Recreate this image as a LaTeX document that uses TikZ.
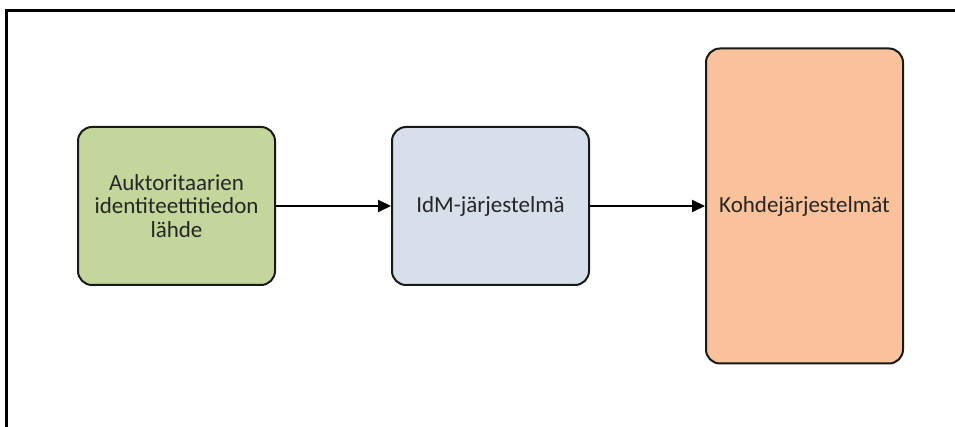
\documentclass[tikz,border=0pt]{standalone}
\usepackage{fontspec}
\setmainfont{Carlito}
\usetikzlibrary{positioning,arrows.meta}

\definecolor{lahdegreen}{HTML}{C3D69B}
\definecolor{idmblue}{HTML}{D7DFEA}
\definecolor{kohdeorange}{HTML}{F9C29A}

\begin{document}
\begin{tikzpicture}[x=0.5pt, y=-0.5pt, node distance=57.5pt,
        sysbox/.style={draw=black!90, line width=1pt, rounded corners=7pt,
          minimum width=98.5pt, minimum height=79pt, align=center,
          font=\fontsize{11.5}{11.8}\selectfont, text=black!85},
        flow/.style={-{Triangle[length=6.5pt, width=6pt]}, line width=1pt}]
        \useasboundingbox (0,0) rectangle (955,427);
        % frame, only its top and left edges fall inside the page
        \draw[line width=1.5pt] (6,427) -- (6,11) -- (955,11);

        \node[sysbox, fill=lahdegreen] (lahde) at (176.5,206)
          {Auktoritaarien\\identiteettitiedon\\lähde};
        \node[sysbox, fill=idmblue, right=of lahde] (idm) {IdM-järjestelmä};
        \node[sysbox, fill=kohdeorange, right=of idm, minimum height=157.5pt] (kohde) {Kohdejärjestelmät};

        \draw[flow] (lahde) -- (idm);
        \draw[flow] (idm) -- (kohde);
      \end{tikzpicture}
\end{document}
